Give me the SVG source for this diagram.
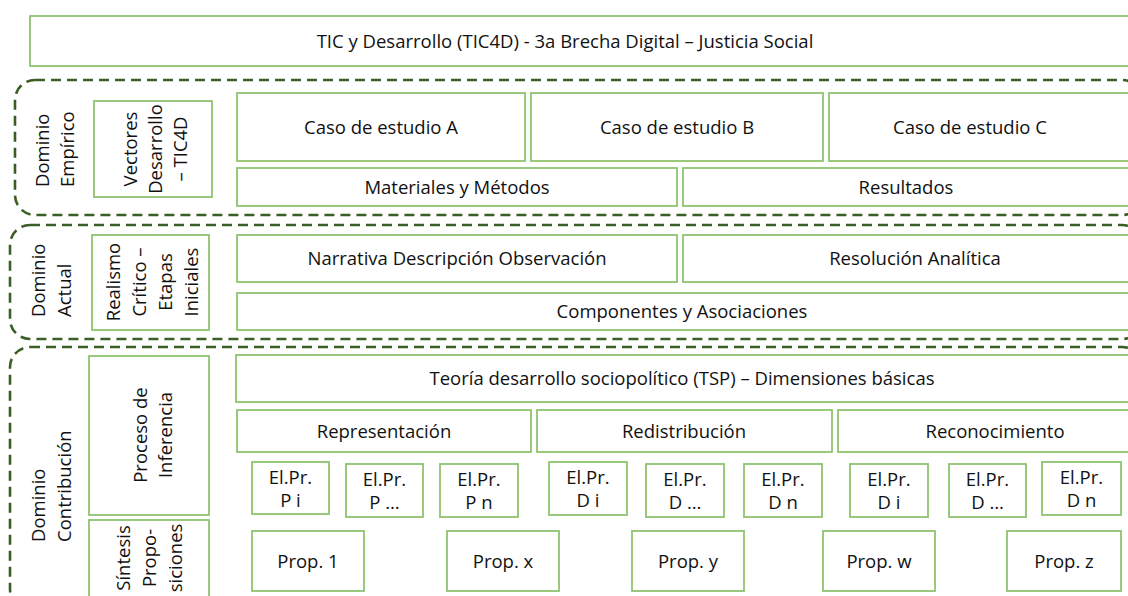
<svg xmlns="http://www.w3.org/2000/svg" width="1128" height="596" viewBox="0 0 1128 596">
<style>
.b{fill:#fff;stroke:#8fc470;stroke-width:1.8}
.d{fill:none;stroke:#3b5e24;stroke-width:2.6;stroke-dasharray:10 6}
text{font-family:"Open Sans","Liberation Sans",sans-serif;font-size:18.5px;fill:#111}
.m{text-anchor:middle}
</style>
<rect width="1128" height="596" fill="#fff"/>
<g id="containers">
<rect id="dom-empirico" class="d" x="15" y="80" width="1127" height="135" rx="20"/>
<rect id="dom-actual" class="d" x="10" y="225" width="1132" height="114" rx="20"/>
<rect id="dom-contribucion" class="d" x="10" y="347" width="1132" height="262" rx="20"/>
</g>
<g id="title"><rect class="b" x="30" y="16" width="1115" height="50"/><text class="m" x="565" y="48">TIC y Desarrollo (TIC4D) - 3a Brecha Digital – Justicia Social</text></g>
<g id="lbl-empirico"><g transform="translate(49,187) rotate(-90)"><text x="0" y="0">Dominio</text><text x="0" y="25">Empírico</text></g></g>
<g id="vectores"><rect class="b" x="94" y="101" width="118" height="96"/><g transform="translate(137,149) rotate(-90)"><text class="m" x="0" y="0">Vectores</text><text class="m" x="0" y="25">Desarrollo</text><text class="m" x="0" y="50">– TIC4D</text></g></g>
<g id="casoA"><rect class="b" x="237" y="93" width="288" height="68"/><text class="m" x="381" y="134">Caso de estudio A</text></g>
<g id="casoB"><rect class="b" x="531" y="93" width="292" height="68"/><text class="m" x="677" y="134">Caso de estudio B</text></g>
<g id="casoC"><rect class="b" x="829" y="93" width="320" height="68"/><text class="m" x="970" y="134">Caso de estudio C</text></g>
<g id="materiales"><rect class="b" x="237" y="168" width="440" height="38"/><text class="m" x="457" y="194">Materiales y Métodos</text></g>
<g id="resultados"><rect class="b" x="683" y="168" width="465" height="38"/><text class="m" x="906" y="194">Resultados</text></g>
<g id="lbl-actual"><g transform="translate(45,317) rotate(-90)"><text x="0" y="0">Dominio</text><text x="0" y="26">Actual</text></g></g>
<g id="realismo"><rect class="b" x="92" y="235" width="117" height="95"/><g transform="translate(120,282) rotate(-90)"><text class="m" x="0" y="0">Realismo</text><text class="m" x="0" y="26">Crítico –</text><text class="m" x="0" y="52">Etapas</text><text class="m" x="0" y="78">Iniciales</text></g></g>
<g id="narrativa"><rect class="b" x="237" y="235" width="440" height="47"/><text class="m" x="457" y="265">Narrativa Descripción Observación</text></g>
<g id="resolucion"><rect class="b" x="683" y="235" width="465" height="47"/><text class="m" x="915" y="265">Resolución Analítica</text></g>
<g id="componentes"><rect class="b" x="237" y="293" width="911" height="37"/><text class="m" x="682" y="318">Componentes y Asociaciones</text></g>
<g id="lbl-contribucion"><g transform="translate(45,542) rotate(-90)"><text x="0" y="0">Dominio</text><text x="0" y="26">Contribución</text></g></g>
<g id="proceso"><rect class="b" x="89" y="356" width="120" height="159"/><g transform="translate(147,435) rotate(-90)"><text class="m" x="0" y="0">Proceso de</text><text class="m" x="0" y="25">Inferencia</text></g></g>
<g id="sintesis"><rect class="b" x="89" y="520" width="120" height="90"/><g transform="translate(130,558) rotate(-90)"><text class="m" x="0" y="0">Síntesis</text><text class="m" x="0" y="26">Propo-</text><text class="m" x="0" y="52">siciones</text></g></g>
<g id="tsp"><rect class="b" x="236" y="355" width="912" height="47"/><text class="m" x="682" y="385">Teoría desarrollo sociopolítico (TSP) – Dimensiones básicas</text></g>
<g id="representacion"><rect class="b" x="237" y="410" width="294" height="42"/><text class="m" x="384" y="438">Representación</text></g>
<g id="redistribucion"><rect class="b" x="537" y="410" width="295" height="42"/><text class="m" x="684" y="438">Redistribución</text></g>
<g id="reconocimiento"><rect class="b" x="838" y="410" width="310" height="42"/><text class="m" x="995" y="438">Reconocimiento</text></g>
<g id="el-pi"><rect class="b" x="252" y="462" width="77" height="52"/><text class="m" x="290.5" y="484">El.Pr.</text><text class="m" x="290.5" y="507">P i</text></g>
<g id="el-pdots"><rect class="b" x="346" y="464" width="77" height="53"/><text class="m" x="384.5" y="486">El.Pr.</text><text class="m" x="384.5" y="509">P …</text></g>
<g id="el-pn"><rect class="b" x="440" y="464" width="78" height="53"/><text class="m" x="479" y="486">El.Pr.</text><text class="m" x="479" y="509">P n</text></g>
<g id="el-di-1"><rect class="b" x="549" y="462" width="78" height="53"/><text class="m" x="588" y="484">El.Pr.</text><text class="m" x="588" y="507">D i</text></g>
<g id="el-ddots-1"><rect class="b" x="646" y="464" width="78" height="53"/><text class="m" x="685" y="486">El.Pr.</text><text class="m" x="685" y="509">D …</text></g>
<g id="el-dn-1"><rect class="b" x="744" y="464" width="78" height="53"/><text class="m" x="783" y="486">El.Pr.</text><text class="m" x="783" y="509">D n</text></g>
<g id="el-di-2"><rect class="b" x="850" y="464" width="78" height="53"/><text class="m" x="889" y="486">El.Pr.</text><text class="m" x="889" y="509">D i</text></g>
<g id="el-ddots-2"><rect class="b" x="949" y="464" width="77" height="53"/><text class="m" x="987.5" y="486">El.Pr.</text><text class="m" x="987.5" y="509">D …</text></g>
<g id="el-dn-2"><rect class="b" x="1042" y="462" width="79" height="53"/><text class="m" x="1081.5" y="484">El.Pr.</text><text class="m" x="1081.5" y="507">D n</text></g>
<g id="prop-1"><rect class="b" x="252" y="531" width="112" height="60"/><text class="m" x="308" y="568">Prop. 1</text></g>
<g id="prop-x"><rect class="b" x="447" y="531" width="112" height="60"/><text class="m" x="503" y="568">Prop. x</text></g>
<g id="prop-y"><rect class="b" x="632" y="531" width="112" height="60"/><text class="m" x="688" y="568">Prop. y</text></g>
<g id="prop-w"><rect class="b" x="823" y="531" width="112" height="60"/><text class="m" x="879" y="568">Prop. w</text></g>
<g id="prop-z"><rect class="b" x="1007" y="531" width="114" height="60"/><text class="m" x="1064" y="568">Prop. z</text></g>
<g id="connectors"/>
</svg>
